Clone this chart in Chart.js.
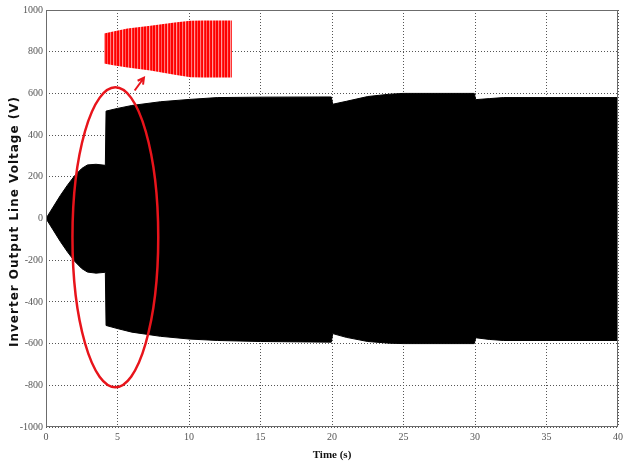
<!DOCTYPE html>
<html>
<head>
<meta charset="utf-8">
<script src="https://cdn.jsdelivr.net/npm/chart.js@4.4.1/dist/chart.umd.min.js"></script>
<style>
  html, body { margin: 0; padding: 0; background: #fff; }
</style>
</head>
<body>
<canvas id="voltageChart" width="628" height="463"></canvas>
<script>
// envelope of the inverter line voltage (V) over time (s)
const envTime = [0, 0.5, 1, 1.5, 2, 2.5, 2.9, 3.5, 4.15, 4.2, 5, 6, 8, 10, 12, 15, 19.95, 20.05, 21, 22.5, 24, 25, 29.95, 30.05, 31, 32, 35, 40];
const envUpper = [0, 55, 110, 160, 205, 240, 257, 260, 255, 515, 528, 542, 560, 571, 580, 582, 583, 548, 562, 585, 596, 600, 600, 570, 575, 580, 580, 580];
const envLower = [0, -55, -110, -160, -205, -240, -257, -262, -258, -513, -528, -545, -565, -578, -585, -590, -593, -552, -570, -590, -598, -600, -600, -572, -580, -585, -585, -585];

// zoomed waveform inset (red)
const insetTime = [4.05, 4.7, 5.7, 7.3, 9, 10.1, 11, 13];
const insetTop = [887, 897, 911, 925, 940, 948, 950, 950];
const insetBottom = [743, 735, 724, 710, 690, 678, 676, 676];

// annotation marks
const ellipseCenter = [4.85, -90];
const ellipseRadius = [3.0, 719];
const arrowFrom = [6.2, 614];
const arrowTo = [6.85, 675];

const xTicks = [0, 40, 5];
const yTicks = [-1000, 1000, 200];
const yTitle = "Inverter Output Line Voltage (V)";

function toPoints(xs, ys) {
  return ys.map((v, i) => ({ x: xs[i], y: v }));
}

function stripePattern() {
  const c = document.createElement("canvas");
  const cols = ["#ff0000", "#ff0000", "#ff7a7a", "#ff1010", "#ff0000", "#ff9a9a", "#ff2020", "#ff0000", "#ff5c5c"];
  c.width = cols.length;
  c.height = 4;
  const g = c.getContext("2d");
  cols.forEach((col, i) => {
    g.fillStyle = col;
    g.fillRect(i, 0, 1, 4);
  });
  return g.createPattern(c, "repeat");
}

const annotationPlugin = {
  id: "annotations",
  afterDatasetsDraw(chart) {
    const { ctx, chartArea, scales: { x, y } } = chart;
    ctx.save();

    ctx.strokeStyle = "#6c6c6c";
    ctx.lineWidth = 1;
    ctx.strokeRect(chartArea.left + 0.5, chartArea.top + 0.5, chartArea.width - 1, chartArea.height - 1);

    const cx = x.getPixelForValue(ellipseCenter[0]);
    const cy = y.getPixelForValue(ellipseCenter[1]);
    const rx = Math.abs(x.getPixelForValue(ellipseCenter[0] + ellipseRadius[0]) - cx);
    const ry = Math.abs(y.getPixelForValue(ellipseCenter[1] + ellipseRadius[1]) - cy);
    ctx.strokeStyle = "#e8141b";
    ctx.lineWidth = 2.5;
    ctx.beginPath();
    ctx.ellipse(cx, cy, rx, ry, 0, 0, Math.PI * 2);
    ctx.stroke();

    const x1 = x.getPixelForValue(arrowFrom[0]);
    const y1 = y.getPixelForValue(arrowFrom[1]);
    const x2 = x.getPixelForValue(arrowTo[0]);
    const y2 = y.getPixelForValue(arrowTo[1]);
    const angle = Math.atan2(y2 - y1, x2 - x1);
    ctx.lineWidth = 2;
    ctx.beginPath();
    ctx.moveTo(x1, y1);
    ctx.lineTo(x2, y2);
    ctx.moveTo(x2 - 7 * Math.cos(angle - 0.5), y2 - 7 * Math.sin(angle - 0.5));
    ctx.lineTo(x2, y2);
    ctx.lineTo(x2 - 7 * Math.cos(angle + 0.5), y2 - 7 * Math.sin(angle + 0.5));
    ctx.stroke();

    // y axis title, spaced out like the original
    ctx.translate(15, (chartArea.top + chartArea.bottom) / 2 + 3);
    ctx.rotate(-Math.PI / 2);
    ctx.font = "bold 12px 'DejaVu Sans', sans-serif";
    ctx.letterSpacing = "1px";
    ctx.fillStyle = "#111";
    ctx.textAlign = "center";
    ctx.textBaseline = "middle";
    ctx.fillText(yTitle, 0, 0);

    ctx.restore();
  }
};

const tickFont = { family: "'Liberation Sans Narrow', 'Liberation Serif', serif", size: 10 };

new Chart(document.getElementById("voltageChart"), {
  type: "line",
  data: {
    datasets: [
      { data: toPoints(envTime, envUpper), borderColor: "#000", borderWidth: 1, fill: false },
      { data: toPoints(envTime, envLower), borderColor: "#000", borderWidth: 1, backgroundColor: "#000", fill: "-1" },
      { data: toPoints(insetTime, insetTop), borderColor: "#ff0000", borderWidth: 0, fill: false },
      { data: toPoints(insetTime, insetBottom), borderColor: "#ff0000", borderWidth: 0, backgroundColor: stripePattern(), fill: "-1" }
    ]
  },
  options: {
    responsive: false,
    animation: false,
    elements: { point: { radius: 0 }, line: { tension: 0 } },
    layout: { padding: { top: 10, right: 10, left: 0, bottom: 0 } },
    plugins: { legend: { display: false }, tooltip: { enabled: false } },
    scales: {
      x: {
        type: "linear",
        min: xTicks[0],
        max: xTicks[1],
        afterFit: scale => { scale.height = 36; },
        ticks: { stepSize: xTicks[2], color: "#555", font: tickFont, padding: 4, maxRotation: 0, callback: v => String(v) },
        grid: { color: "#555", drawTicks: false },
        border: { display: false, dash: [1, 2] },
        title: {
          display: true,
          text: "Time (s)",
          color: "#111",
          font: { family: "'Liberation Serif', serif", size: 11, weight: "bold" },
          padding: { top: 0, bottom: 1 }
        }
      },
      y: {
        min: yTicks[0],
        max: yTicks[1],
        afterFit: scale => { scale.width = 46; },
        ticks: { stepSize: yTicks[2], color: "#555", font: tickFont, padding: 3, callback: v => String(v) },
        grid: { color: "#555", drawTicks: false },
        border: { display: false, dash: [1, 2] }
      }
    }
  },
  plugins: [annotationPlugin]
});
</script>
</body>
</html>
